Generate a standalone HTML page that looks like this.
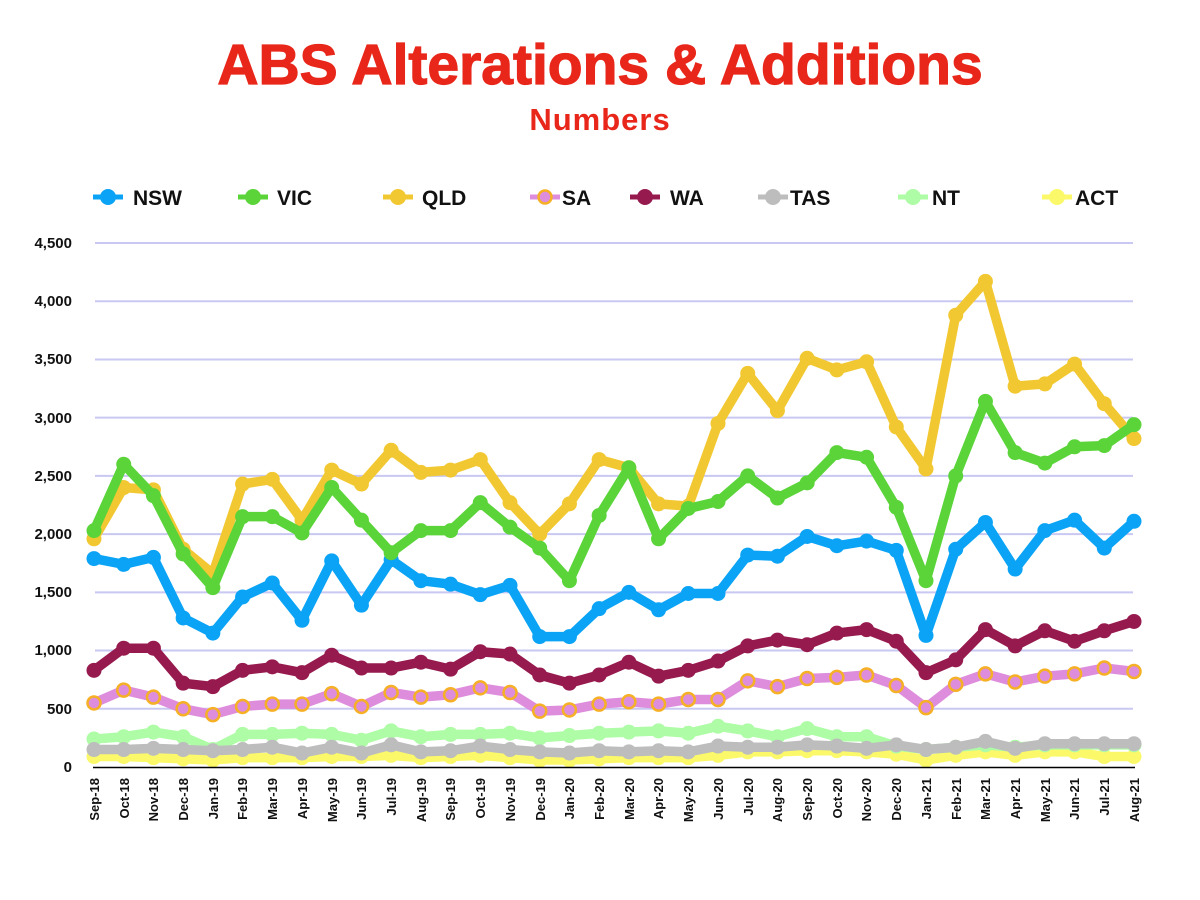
<!DOCTYPE html>
<html><head><meta charset="utf-8"><style>
html,body{margin:0;padding:0;background:#fff;}
svg{display:block;font-family:"Liberation Sans",sans-serif;}
</style></head><body>
<svg id="c" width="1200" height="900" xmlns="http://www.w3.org/2000/svg">
<text x="600" y="84" text-anchor="middle" font-size="57" font-weight="bold" fill="#e8261a" stroke="#e8261a" stroke-width="1.2">ABS Alterations &amp; Additions</text>
<text x="600" y="130" text-anchor="middle" font-size="31" font-weight="bold" fill="#e8261a" letter-spacing="1">Numbers</text>
<g font-size="21" font-weight="bold" fill="#111">
<text x="133" y="205">NSW</text><text x="277" y="205">VIC</text><text x="422" y="205">QLD</text>
<text x="562" y="205">SA</text><text x="670" y="205">WA</text><text x="790" y="205">TAS</text>
<text x="932" y="205">NT</text><text x="1075" y="205">ACT</text>
</g>
<g font-size="15" font-weight="bold" fill="#111" text-anchor="end">
<text x="72" y="248">4,500</text><text x="72" y="306">4,000</text><text x="72" y="364">3,500</text>
<text x="72" y="423">3,000</text><text x="72" y="481">2,500</text><text x="72" y="539">2,000</text>
<text x="72" y="597">1,500</text><text x="72" y="655">1,000</text><text x="72" y="714">500</text>
<text x="72" y="772">0</text>
</g>
<g id="grid"></g>
<g id="series"></g>
<line x1="93" y1="767.5" x2="1135" y2="767.5" stroke="#000" stroke-width="1.5"/>
<g font-size="13" font-weight="bold" fill="#111" text-anchor="end" id="xl">
<text transform="translate(99,778) rotate(-90)">Sep-18</text>
<text transform="translate(129,778) rotate(-90)">Oct-18</text>
<text transform="translate(158,778) rotate(-90)">Nov-18</text>
<text transform="translate(188,778) rotate(-90)">Dec-18</text>
<text transform="translate(218,778) rotate(-90)">Jan-19</text>
<text transform="translate(247,778) rotate(-90)">Feb-19</text>
<text transform="translate(277,778) rotate(-90)">Mar-19</text>
<text transform="translate(307,778) rotate(-90)">Apr-19</text>
<text transform="translate(337,778) rotate(-90)">May-19</text>
<text transform="translate(366,778) rotate(-90)">Jun-19</text>
<text transform="translate(396,778) rotate(-90)">Jul-19</text>
<text transform="translate(426,778) rotate(-90)">Aug-19</text>
<text transform="translate(455,778) rotate(-90)">Sep-19</text>
<text transform="translate(485,778) rotate(-90)">Oct-19</text>
<text transform="translate(515,778) rotate(-90)">Nov-19</text>
<text transform="translate(545,778) rotate(-90)">Dec-19</text>
<text transform="translate(574,778) rotate(-90)">Jan-20</text>
<text transform="translate(604,778) rotate(-90)">Feb-20</text>
<text transform="translate(634,778) rotate(-90)">Mar-20</text>
<text transform="translate(663,778) rotate(-90)">Apr-20</text>
<text transform="translate(693,778) rotate(-90)">May-20</text>
<text transform="translate(723,778) rotate(-90)">Jun-20</text>
<text transform="translate(753,778) rotate(-90)">Jul-20</text>
<text transform="translate(782,778) rotate(-90)">Aug-20</text>
<text transform="translate(812,778) rotate(-90)">Sep-20</text>
<text transform="translate(842,778) rotate(-90)">Oct-20</text>
<text transform="translate(871,778) rotate(-90)">Nov-20</text>
<text transform="translate(901,778) rotate(-90)">Dec-20</text>
<text transform="translate(931,778) rotate(-90)">Jan-21</text>
<text transform="translate(961,778) rotate(-90)">Feb-21</text>
<text transform="translate(990,778) rotate(-90)">Mar-21</text>
<text transform="translate(1020,778) rotate(-90)">Apr-21</text>
<text transform="translate(1050,778) rotate(-90)">May-21</text>
<text transform="translate(1079,778) rotate(-90)">Jun-21</text>
<text transform="translate(1109,778) rotate(-90)">Jul-21</text>
<text transform="translate(1139,778) rotate(-90)">Aug-21</text>
</g>
</svg>
<script>
var NS="http://www.w3.org/2000/svg";
function el(p,n,a){var e=document.createElementNS(NS,n);for(var k in a)e.setAttribute(k,a[k]);p.appendChild(e);return e;}
var g=document.getElementById('grid');
for(var i=1;i<=9;i++){var y=767-i*500*524/4500;el(g,'line',{x1:95,x2:1133,y1:y,y2:y,stroke:'#c8c8f2','stroke-width':2});}
var D={
ACT:[90,90,80,70,60,80,80,80,90,90,100,80,90,100,80,60,60,70,80,80,80,100,130,130,140,140,130,110,60,100,130,100,130,130,90,90],
NT:[240,260,300,260,150,280,280,290,280,230,310,260,280,280,290,250,270,290,300,310,290,350,310,260,330,260,260,180,150,170,190,170,190,190,190,190],
TAS:[150,150,160,150,140,150,170,120,170,120,190,130,140,180,150,130,120,140,130,140,130,180,170,170,190,180,160,190,150,170,220,160,200,200,200,200],
SA:[550,660,600,500,450,520,540,540,630,520,640,600,620,680,640,480,490,540,560,540,580,580,740,690,760,770,790,700,510,710,800,730,780,800,850,820],
WA:[830,1020,1020,720,690,830,860,810,960,850,850,900,840,990,970,790,720,790,900,780,830,910,1040,1090,1050,1150,1180,1080,810,920,1180,1040,1170,1080,1170,1250],
NSW:[1790,1740,1800,1280,1150,1460,1580,1260,1770,1390,1780,1600,1570,1480,1560,1120,1120,1360,1500,1350,1490,1490,1820,1810,1980,1900,1940,1860,1130,1870,2100,1700,2030,2120,1880,2110],
QLD:[1960,2400,2380,1870,1660,2430,2470,2120,2550,2430,2720,2530,2550,2640,2270,2000,2260,2640,2570,2260,2240,2950,3380,3060,3510,3410,3480,2920,2560,3880,4170,3270,3290,3460,3120,2820],
VIC:[2030,2600,2330,1830,1540,2150,2150,2010,2400,2120,1840,2030,2030,2270,2060,1880,1600,2160,2570,1960,2220,2280,2500,2310,2440,2700,2660,2230,1600,2500,3140,2700,2610,2750,2760,2940]};
var C={NSW:'#0aa3f5',VIC:'#5bd43a',QLD:'#f2c832',SA:'#dd8ddc',WA:'#961a4e',TAS:'#bdbdbd',NT:'#aefca6',ACT:'#fbf96a'};
var L={NSW:108,VIC:253,QLD:398,SA:545,WA:645,TAS:773,NT:913,ACT:1057};
var s=document.getElementById('series');
['ACT','NT','TAS','SA','WA','NSW','QLD','VIC'].forEach(function(k){
 var pts=D[k].map(function(v,i){return [94+i*1040/35,767-v*524/4500];});
 el(s,'polyline',{points:pts.map(function(p){return p.join(',')}).join(' '),fill:'none',stroke:C[k],'stroke-width':9.5,'stroke-linejoin':'round','stroke-linecap':'round'});
 pts.forEach(function(p){
  if(k=='SA')el(s,'circle',{cx:p[0],cy:p[1],r:6.5,fill:C[k],stroke:'#f5b025','stroke-width':2.5});
  else el(s,'circle',{cx:p[0],cy:p[1],r:7.5,fill:C[k]});
 });
 var x=L[k];
 el(s,'line',{x1:x-15,x2:x+15,y1:197,y2:197,stroke:C[k],'stroke-width':5});
 if(k=='SA')el(s,'circle',{cx:x,cy:197,r:6.5,fill:C[k],stroke:'#f5b025','stroke-width':2.5});
 else el(s,'circle',{cx:x,cy:197,r:8,fill:C[k]});
});
</script>
</body></html>
